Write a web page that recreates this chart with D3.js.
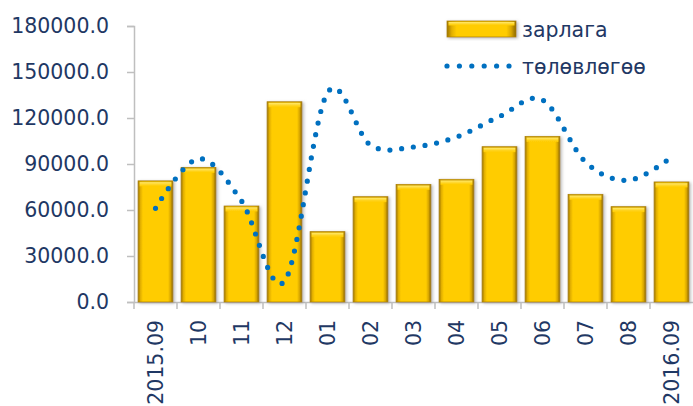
<!DOCTYPE html>
<html>
<head>
<meta charset="utf-8">
<script src="https://cdn.jsdelivr.net/npm/d3@7"></script>
<style>
  body { margin: 0; background: #fff; }
  text { font-family: "DejaVu Sans", Verdana, sans-serif; fill: #1f3864; }
</style>
</head>
<body>
<script>
var months = ['2015.09','10','11','12','01','02','03','04','05','06','07','08','2016.09'];
var spending = [79000, 87800, 62600, 130600, 45900, 68700, 76700, 80000, 101300, 108000, 70200, 62200, 78300];
var plan = [61100, 93500, 65900, 13500, 136500, 102300, 101100, 107600, 121000, 131800, 91300, 79400, 94500];
var yTicks = [0, 30000, 60000, 90000, 120000, 150000, 180000];
var seriesNames = ['зарлага', 'төлөвлөгөө'];

var W = 693, H = 406;
var svg = d3.select('body').append('svg').attr('width', W).attr('height', H);
var defs = svg.append('defs');

// bar shading: dark edges, bright middle
var g1 = defs.append('linearGradient').attr('id','barSide').attr('x1','0').attr('x2','1').attr('y1','0').attr('y2','0');
[['0%','#9c7400'],['7%','#e3b000'],['14%','#ffcc00'],['86%','#ffcc00'],['93%','#d9a700'],['100%','#8a6600']]
  .forEach(function(s){ g1.append('stop').attr('offset',s[0]).attr('stop-color',s[1]); });
var g2 = defs.append('linearGradient').attr('id','barTop').attr('x1','0').attr('x2','0').attr('y1','0').attr('y2','1');
[['0%','#c99a00'],['25%','#ffe45c'],['70%','#ffd21a'],['100%','#ffcc00']]
  .forEach(function(s){ g2.append('stop').attr('offset',s[0]).attr('stop-color',s[1]); });
var f = defs.append('filter').attr('id','shadow').attr('x','-20%').attr('y','-20%').attr('width','140%').attr('height','140%');
f.append('feDropShadow').attr('dx',1.5).attr('dy',1).attr('stdDeviation',1.5).attr('flood-color','#888').attr('flood-opacity',0.6);

var x = d3.scaleBand().domain(months).range([134, 693]).padding(0);
var y = d3.scaleLinear().domain([0, 180000]).range([302, 26]);

// y axis
var yAxis = svg.append('g').attr('transform','translate(134,0)')
  .call(d3.axisLeft(y).tickValues(yTicks).tickSize(7).tickPadding(18).tickFormat(d3.format('.1f')));
yAxis.select('.domain').attr('stroke','#bfbfbf').attr('stroke-width',1.5);
yAxis.selectAll('.tick line').attr('stroke','#bfbfbf').attr('stroke-width',1.5);
yAxis.selectAll('.tick text').style('font-size','20.5px').attr('fill','#1f3864');

// x axis
var xAxis = svg.append('g').attr('transform','translate(0,302)')
  .call(d3.axisBottom(x).tickSize(0).tickSizeOuter(0));
xAxis.select('.domain').attr('stroke','#bfbfbf').attr('stroke-width',1.5);
xAxis.selectAll('.tick text')
  .style('font-size','20.5px').attr('fill','#1f3864')
  .attr('transform','rotate(-90)')
  .attr('text-anchor','end')
  .attr('x', -18).attr('y', 0).attr('dy','0.36em');
xAxis.selectAll('.sep').data(months).enter().append('line').attr('class','sep')
  .attr('x1', function(d){ return x(d); }).attr('x2', function(d){ return x(d); })
  .attr('y1', 0).attr('y2', 7).attr('stroke','#bfbfbf').attr('stroke-width',1.5);

// bars
var pad = x.bandwidth() * 0.095;
var bars = svg.append('g').selectAll('.bar').data(spending).enter().append('g').attr('class','bar')
  .attr('filter','url(#shadow)');
bars.append('rect')
  .attr('x', function(d,i){ return x(months[i]) + pad; })
  .attr('y', function(d){ return y(d); })
  .attr('width', x.bandwidth() - 2*pad)
  .attr('height', function(d){ return y(0) - y(d); })
  .attr('fill','url(#barSide)').attr('stroke','#b08600').attr('stroke-width',0.8);
bars.append('rect')
  .attr('x', function(d,i){ return x(months[i]) + pad + 1.5; })
  .attr('y', function(d){ return y(d) + 0.5; })
  .attr('width', x.bandwidth() - 2*pad - 3)
  .attr('height', 5)
  .attr('fill','url(#barTop)');

// plan line, smoothed, round dots
var line = d3.line()
  .x(function(d,i){ return x(months[i]) + x.bandwidth()/2; })
  .y(function(d){ return y(d); })
  .curve(d3.curveCardinal.tension(0));
svg.append('path').datum(plan).attr('d', line)
  .attr('fill','none').attr('stroke','#0070c0').attr('stroke-width',5.2)
  .attr('stroke-linecap','round').attr('stroke-dasharray','0 11.8');

// legend
var lg = svg.append('g');
lg.append('rect').attr('x',447).attr('y',21).attr('width',69).attr('height',16)
  .attr('fill','url(#barSide)').attr('stroke','#b08600').attr('stroke-width',0.8).attr('filter','url(#shadow)');
lg.append('rect').attr('x',448.5).attr('y',21.5).attr('width',66).attr('height',4).attr('fill','url(#barTop)');
lg.append('text').attr('x',522).attr('y',37).style('font-size','20.5px').text(seriesNames[0]);
lg.append('line').attr('x1',447).attr('x2',510).attr('y1',66).attr('y2',66)
  .attr('stroke','#0070c0').attr('stroke-width',5.2).attr('stroke-linecap','round').attr('stroke-dasharray','0 12.4');
lg.append('text').attr('x',522).attr('y',74).style('font-size','20.5px').text(seriesNames[1]);
</script>
</body>
</html>
